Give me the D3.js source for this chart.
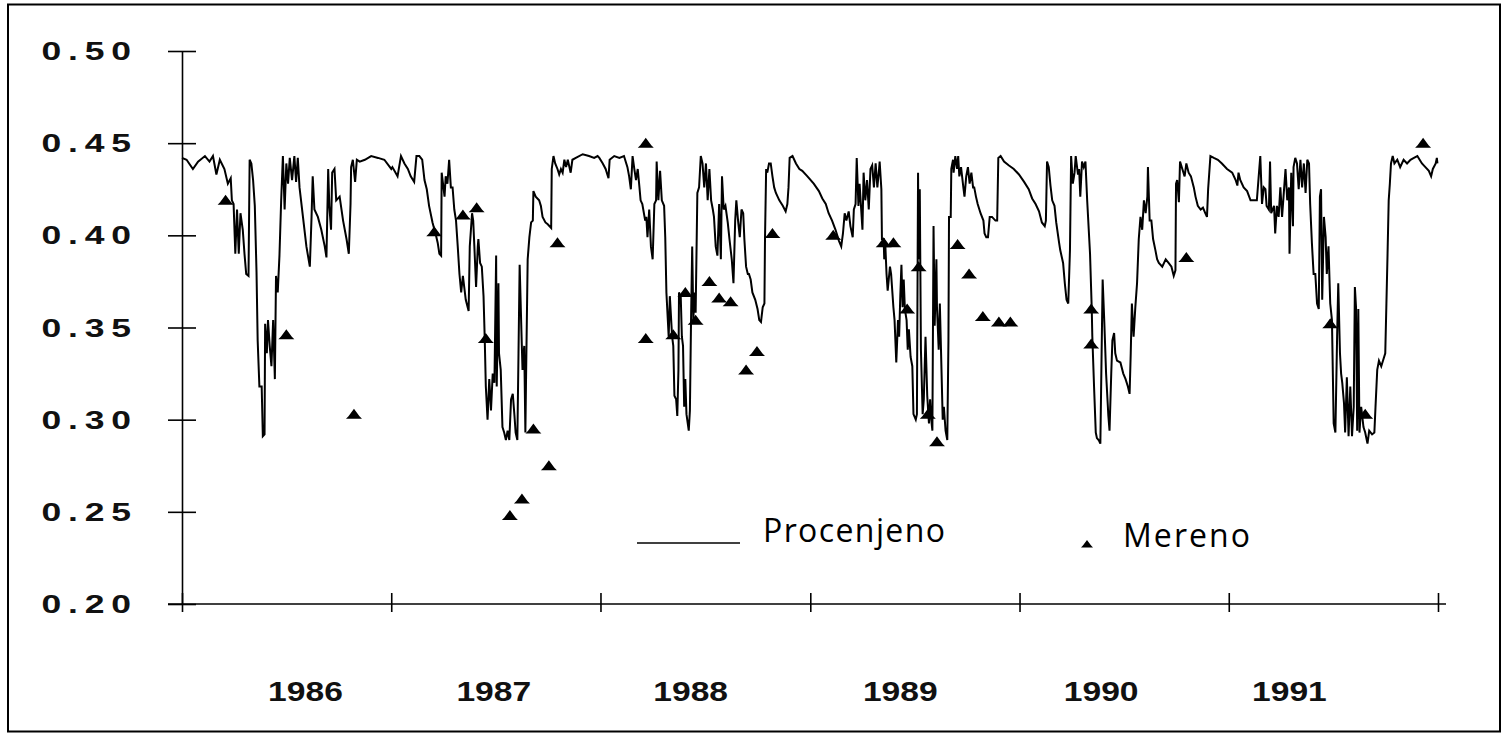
<!DOCTYPE html>
<html>
<head>
<meta charset="utf-8">
<script src="https://cdn.jsdelivr.net/npm/d3@7"></script>
<style>
  html, body { margin: 0; padding: 0; background: #fff; }
  svg { display: block; }
</style>
</head>
<body>
<svg id="chart" width="1508" height="735"></svg>
<script>
// Soil moisture 1986-1991: simulated daily series ("Procenjeno") and field measurements ("Mereno").
// Each entry: [day since 1 Jan 1986, volumetric moisture]
const procenjeno = [
  [0,.442],[8,.441],[19,.436],[28,.440],[40,.443],[48,.440],[54,.443],[60,.433],[66,.441],[74,.436],[80,.428],[85,.431],[87,.419],[90,.417],[93,.390],[96,.414],[99,.390],[102,.412],[106,.403],[109,.390],[112,.379],[116,.378],[118,.441],[121,.439],[124,.430],[127,.416],[130,.380],[132,.343],[135,.318],[139,.318],[141,.291],[144,.292],[145,.352],[148,.336],[150,.354],[153,.340],[156,.329],[159,.354],[162,.322],[164,.378],[167,.369],[170,.389],[173,.419],[176,.443],[179,.414],[182,.439],[185,.428],[188,.442],[192,.430],[196,.443],[199,.429],[202,.442],[205,.426],[211,.410],[217,.394],[223,.383],[226,.410],[228,.432],[231,.414],[237,.410],[243,.403],[249,.394],[252,.388],[255,.436],[257,.416],[260,.403],[262,.434],[266,.436],[269,.419],[275,.421],[281,.408],[287,.398],[291,.390],[294,.417],[295,.437],[298,.441],[302,.429],[305,.441],[310,.440],[319,.441],[330,.443],[342,.442],[353,.441],[365,.436],
  [367,.437],[376,.432],[382,.443],[388,.439],[394,.436],[399,.432],[405,.429],[409,.443],[414,.443],[419,.441],[423,.430],[427,.425],[431,.416],[437,.407],[443,.400],[446,.396],[449,.390],[452,.389],[453,.434],[458,.421],[460,.432],[463,.428],[466,.441],[469,.426],[472,.426],[475,.414],[478,.408],[481,.394],[484,.379],[487,.369],[490,.378],[495,.365],[500,.359],[502,.394],[506,.412],[508,.408],[510,.394],[513,.372],[516,.394],[517,.398],[520,.385],[523,.383],[526,.367],[528,.345],[530,.318],[533,.300],[536,.322],[539,.305],[542,.325],[545,.320],[548,.389],[549,.318],[552,.374],[553,.336],[556,.327],[559,.296],[562,.293],[565,.289],[568,.294],[571,.289],[574,.311],[577,.314],[580,.302],[582,.293],[585,.289],[587,.336],[589,.384],[592,.349],[594,.327],[597,.340],[599,.293],[600,.318],[603,.387],[606,.399],[609,.407],[612,.408],[613,.424],[617,.421],[623,.419],[626,.416],[629,.410],[634,.407],[638,.406],[644,.404],[645,.436],[648,.443],[651,.439],[655,.436],[658,.433],[661,.436],[664,.434],[667,.441],[670,.437],[673,.441],[678,.434],[681,.441],[687,.442],[699,.444],[710,.443],[719,.442],[725,.443],
  [728,.442],[734,.439],[739,.436],[744,.431],[746,.441],[754,.443],[763,.442],[771,.443],[777,.437],[780,.432],[783,.425],[786,.443],[789,.436],[792,.430],[795,.436],[798,.426],[800,.419],[803,.417],[808,.408],[810,.410],[812,.399],[815,.414],[818,.394],[821,.387],[824,.417],[827,.419],[828,.440],[831,.419],[834,.435],[837,.419],[841,.416],[843,.399],[845,.369],[849,.345],[851,.367],[855,.345],[857,.340],[859,.313],[862,.311],[864,.302],[866,.327],[867,.369],[870,.367],[872,.345],[874,.340],[876,.307],[878,.322],[880,.303],[884,.294],[886,.305],[888,.354],[890,.394],[892,.354],[894,.369],[896,.358],[899,.423],[902,.426],[905,.443],[908,.439],[911,.426],[914,.439],[917,.419],[920,.436],[923,.419],[926,.414],[928,.410],[931,.394],[934,.389],[937,.417],[940,.387],[942,.432],[945,.414],[948,.416],[952,.407],[955,.398],[959,.387],[962,.374],[965,.408],[967,.419],[970,.408],[973,.399],[976,.414],[979,.412],[981,.398],[984,.383],[987,.379],[989,.379],[992,.376],[995,.369],[1000,.365],[1004,.360],[1007,.354],[1010,.353],[1013,.361],[1016,.363],[1017,.398],[1019,.436],[1021,.434],[1024,.439],[1027,.439],[1030,.432],[1033,.426],[1036,.423],[1042,.419],[1048,.416],[1053,.413],[1056,.417],[1058,.426],[1060,.442],[1065,.443],[1071,.439],[1077,.436],[1082,.435],[1091,.432],
  [1102,.428],[1111,.424],[1117,.420],[1123,.417],[1128,.412],[1134,.408],[1140,.403],[1146,.397],[1150,.394],[1153,.401],[1156,.412],[1159,.408],[1163,.413],[1166,.405],[1170,.399],[1172,.414],[1175,.417],[1177,.442],[1180,.416],[1182,.428],[1187,.403],[1189,.434],[1192,.419],[1195,.430],[1198,.414],[1201,.436],[1204,.438],[1207,.426],[1210,.439],[1213,.426],[1216,.436],[1217,.440],[1220,.425],[1221,.398],[1224,.398],[1225,.387],[1227,.394],[1229,.379],[1231,.370],[1235,.383],[1237,.379],[1241,.361],[1243,.354],[1246,.331],[1249,.354],[1251,.345],[1253,.367],[1255,.384],[1257,.361],[1259,.376],[1261,.360],[1264,.354],[1266,.338],[1268,.349],[1271,.334],[1274,.329],[1276,.303],[1280,.300],[1282,.303],[1284,.434],[1285,.387],[1287,.425],[1289,.338],[1292,.303],[1294,.311],[1297,.345],[1300,.313],[1303,.298],[1305,.311],[1307,.300],[1309,.294],[1311,.405],[1313,.351],[1316,.387],[1317,.361],[1320,.338],[1322,.363],[1324,.338],[1327,.300],[1329,.307],[1332,.294],[1335,.289],[1337,.343],[1338,.410],[1341,.410],[1342,.436],[1345,.441],[1346,.434],[1349,.443],[1352,.436],[1354,.443],[1356,.432],[1359,.437],[1363,.426],[1365,.421],[1368,.432],[1371,.437],[1374,.428],[1377,.434],[1380,.426],[1382,.426],[1385,.421],[1388,.417],[1393,.412],[1398,.408],[1400,.401],[1403,.399],[1406,.399],[1409,.410],[1413,.410],[1419,.408],[1422,.408],[1424,.442],[1428,.443],[1434,.440],[1442,.438],[1451,.436],
  [1460,.433],[1469,.429],[1477,.425],[1483,.420],[1489,.417],[1495,.413],[1500,.407],[1505,.405],[1507,.408],[1509,.440],[1512,.437],[1515,.427],[1518,.419],[1522,.416],[1525,.407],[1530,.396],[1532,.392],[1537,.385],[1540,.374],[1543,.365],[1546,.363],[1549,.392],[1551,.443],[1554,.428],[1557,.434],[1559,.443],[1563,.433],[1565,.436],[1567,.421],[1570,.440],[1573,.437],[1576,.440],[1579,.419],[1584,.390],[1587,.360],[1588,.345],[1591,.318],[1594,.293],[1596,.290],[1599,.289],[1602,.287],[1605,.354],[1606,.376],[1609,.352],[1612,.325],[1616,.302],[1618,.294],[1621,.325],[1623,.343],[1626,.347],[1628,.336],[1631,.332],[1637,.331],[1642,.325],[1646,.322],[1650,.318],[1653,.314],[1655,.336],[1657,.363],[1660,.345],[1663,.361],[1666,.374],[1669,.398],[1672,.410],[1675,.403],[1678,.419],[1681,.412],[1684,.421],[1685,.437],[1688,.408],[1691,.408],[1694,.398],[1698,.392],[1701,.387],[1704,.385],[1710,.383],[1716,.387],[1721,.385],[1726,.383],[1730,.378],[1733,.381],[1734,.428],[1736,.430],[1739,.418],[1741,.440],[1745,.436],[1749,.432],[1752,.439],[1756,.434],[1760,.432],[1765,.426],[1768,.421],[1772,.416],[1777,.414],[1781,.415],[1785,.412],[1788,.410],[1790,.425],[1794,.443],[1800,.442],[1807,.441],[1814,.439],[1823,.436],
  [1832,.434],[1838,.430],[1841,.427],[1843,.434],[1846,.430],[1852,.426],[1858,.424],[1864,.419],[1870,.419],[1875,.419],[1878,.431],[1881,.443],[1884,.417],[1887,.426],[1890,.425],[1892,.416],[1896,.414],[1898,.440],[1900,.412],[1905,.416],[1907,.401],[1910,.416],[1913,.410],[1916,.426],[1919,.410],[1922,.423],[1925,.436],[1928,.419],[1931,.426],[1932,.390],[1935,.434],[1938,.405],[1939,.437],[1942,.442],[1945,.439],[1948,.425],[1951,.441],[1954,.426],[1957,.439],[1960,.423],[1963,.441],[1966,.439],[1968,.417],[1971,.396],[1974,.379],[1977,.379],[1980,.363],[1983,.360],[1985,.421],[1987,.425],[1989,.365],[1992,.410],[1995,.399],[1997,.379],[2000,.394],[2003,.363],[2006,.354],[2009,.298],[2012,.293],[2015,.345],[2017,.374],[2020,.336],[2022,.325],[2024,.320],[2027,.309],[2029,.293],[2032,.323],[2035,.291],[2038,.318],[2041,.291],[2044,.307],[2046,.372],[2048,.361],[2050,.294],[2052,.360],[2054,.293],[2057,.307],[2061,.296],[2064,.293],[2068,.287],[2071,.294],[2076,.292],[2080,.293],[2082,.307],[2085,.327],[2088,.332],[2092,.329],[2095,.332],[2099,.336],[2101,.363],[2103,.390],[2105,.419],[2107,.428],[2109,.439],[2112,.443],[2115,.439],[2120,.441],[2125,.437],[2131,.441],[2137,.439],[2143,.441],[2149,.442],[2155,.443],[2159,.441],[2163,.439],[2169,.437],[2175,.435],[2179,.432],[2182,.436],[2187,.439],[2189,.442],[2190,.439]
];

const mereno = [
  [76,.419],[182,.346],[300,.303],[440,.402],[490,.411],[514,.415],[530,.344],[572,.248],[593,.257],[613,.295],[640,.275],[655,.396],
  [809,.450],[809,.344],[857,.346],[878,.369],[896,.354],[920,.375],[937,.366],[957,.364],[984,.327],[1003,.337],[1030,.401],
  [1136,.400],[1224,.396],[1241,.396],[1265,.360],[1285,.383],[1301,.303],[1317,.288],[1353,.395],[1373,.379],[1397,.356],[1425,.353],[1445,.353],
  [1586,.360],[1586,.341],[1752,.388],[2003,.352],[2064,.303],[2165,.450]
];

const yTicks = [0.20, 0.25, 0.30, 0.35, 0.40, 0.45, 0.50];
const yearBounds = [1986, 1987, 1988, 1989, 1990, 1991, 1992];
const yearLabels = ["1986", "1987", "1988", "1989", "1990", "1991"];
const yearLabelAt = [1986.59, 1987.49, 1988.43, 1989.43, 1990.39, 1991.29];
const legendNames = ["Procenjeno", "Mereno"];

const start = new Date(1986, 0, 1);
const dayToDate = d => d3.timeDay.offset(start, d);
const fracYearToDate = f => {
  const y = Math.floor(f);
  const a = new Date(y, 0, 1), b = new Date(y + 1, 0, 1);
  return new Date(+a + (f - y) * (b - a));
};

const svg = d3.select("#chart");
const W = 1508, H = 735;

svg.append("rect").attr("x", 0).attr("y", 0).attr("width", W).attr("height", H).attr("fill", "#fff");
// outer frame
svg.append("rect")
  .attr("x", 8).attr("y", 4.5).attr("width", 1492).attr("height", 727)
  .attr("fill", "none").attr("stroke", "#000").attr("stroke-width", 2);

const x = d3.scaleTime()
  .domain([new Date(1986, 0, 1), new Date(1992, 0, 1)])
  .range([182, 1438]);
const y = d3.scaleLinear().domain([0.20, 0.50]).range([604, 51]);

const axisStroke = g => g.selectAll("path, line").attr("stroke", "#000").attr("stroke-width", 1.6);

// y axis: ticks crossing the spine
const gy = svg.append("g").attr("transform", "translate(182,0)");
gy.call(d3.axisLeft(y).tickValues(yTicks).tickSize(14).tickSizeOuter(0).tickFormat(""));
gy.append("g").call(d3.axisRight(y).tickValues(yTicks).tickSize(14).tickSizeOuter(0).tickFormat(""))
  .select(".domain").remove();
axisStroke(gy);

// y tick labels: spaced, wide bold digits
svg.append("g").selectAll("text").data(yTicks).join("text")
  .attr("transform", d => `translate(131,${y(d) + 9}) scale(1.42,1)`)
  .attr("text-anchor", "end")
  .attr("font-family", "Liberation Sans, Arial, sans-serif")
  .attr("font-weight", "bold")
  .attr("font-size", 25)
  .attr("textLength", 63)
  .attr("lengthAdjust", "spacing")
  .attr("fill", "#111")
  .text(d => d3.format(".2f")(d));

// x axis
const gx = svg.append("g").attr("transform", "translate(0,604)");
const yearDates = yearBounds.map(yr => new Date(yr, 0, 1));
gx.call(d3.axisBottom(x).tickValues(yearDates).tickSize(8).tickSizeOuter(0).tickFormat(""));
gx.append("g").call(d3.axisTop(x).tickValues(yearDates).tickSize(11).tickSizeOuter(0).tickFormat(""))
  .select(".domain").remove();
gx.select(".domain").attr("d", "M168,0H1446");
axisStroke(gx);

svg.append("g").selectAll("text").data(yearLabels).join("text")
  .attr("transform", (d, i) => `translate(${x(fracYearToDate(yearLabelAt[i]))},701) scale(1.2,1)`)
  .attr("text-anchor", "middle")
  .attr("font-family", "Liberation Sans, Arial, sans-serif")
  .attr("font-weight", "bold")
  .attr("font-size", 28)
  .attr("fill", "#111")
  .text(d => d);

// simulated series
const line = d3.line()
  .x(d => x(dayToDate(d[0])))
  .y(d => y(d[1]));
svg.append("path")
  .datum(procenjeno)
  .attr("d", line)
  .attr("fill", "none")
  .attr("stroke", "#000")
  .attr("stroke-width", 2)
  .attr("stroke-linejoin", "miter");

// measured points
const tri = "M-8,4.5L-5.5,2L0,-5.5L5.5,2L8,4.5Z";
svg.append("g").selectAll("path").data(mereno).join("path")
  .attr("transform", d => `translate(${x(dayToDate(d[0]))},${y(d[1])})`)
  .attr("d", tri)
  .attr("fill", "#000");

// legend
const lg = svg.append("g");
lg.append("line").attr("x1", 637).attr("x2", 740).attr("y1", 543).attr("y2", 543)
  .attr("stroke", "#000").attr("stroke-width", 1.6);
lg.append("text").attr("x", 763).attr("y", 542)
  .attr("font-family", "Open Sans, sans-serif").attr("font-size", 32)
  .attr("textLength", 182).attr("lengthAdjust", "spacing")
  .attr("fill", "#000").text(legendNames[0]);
lg.append("path").attr("transform", "translate(1087,544) scale(0.75)").attr("d", tri).attr("fill", "#000");
lg.append("text").attr("x", 1123).attr("y", 547)
  .attr("font-family", "Open Sans, sans-serif").attr("font-size", 32)
  .attr("textLength", 127).attr("lengthAdjust", "spacing")
  .attr("fill", "#000").text(legendNames[1]);
</script>
</body>
</html>
